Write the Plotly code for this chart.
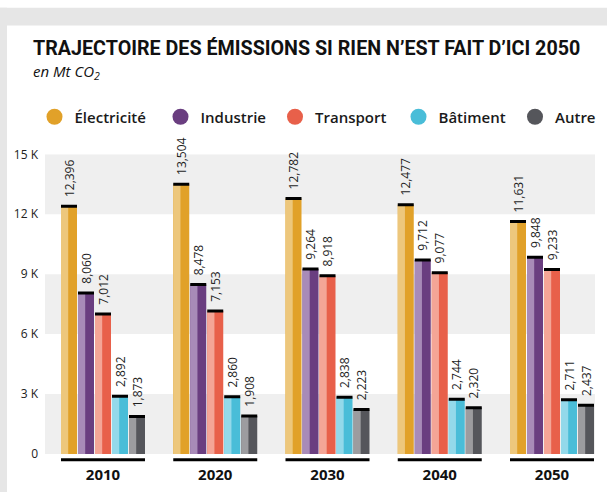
import plotly.graph_objects as go

years = ['2010', '2020', '2030', '2040', '2050']
series_names = ['Électricité', 'Industrie', 'Transport', 'Bâtiment', 'Autre']
electricite = [12396, 13504, 12782, 12477, 11631]
industrie = [8060, 8478, 9264, 9712, 9848]
transport = [7012, 7153, 8918, 9077, 9233]
batiment = [2892, 2860, 2838, 2744, 2711]
autre = [1873, 1908, 2223, 2320, 2437]
series_values = [electricite, industrie, transport, batiment, autre]
base_colors = ['#E1A129', '#6A3E80', '#E8604A', '#49BDD8', '#55565B']
light_colors = ['#EDC77C', '#A88BB8', '#F4A596', '#93D9EA', '#9C9C9F']
tick_vals = [0, 3000, 6000, 9000, 12000, 15000]
tick_text = ['0', '3 K', '6 K', '9 K', '12 K', '15 K']

W, H = 607, 496
ML, MR, MT, MB = 45, 12, 150, 39
PW, PH = W - ML - MR, H - MT - MB

# group geometry in category units
CAT_PX = 112.25
BAR_W = 16 / CAT_PX
SLOT = 17 / CAT_PX
GROUP_LEFT = -42 / CAT_PX
LIGHT_FRAC = 0.45

# legend symbol centres (px from left) for each series
LEGEND_CX = [54.5, 180.5, 295, 418.5, 535]
LEGEND_SYM_OFFSET = 20

FONT = 'Open Sans'

fig = go.Figure()

for j, (name, vals) in enumerate(zip(series_names, series_values)):
    off = GROUP_LEFT + j * SLOT
    fig.add_trace(go.Bar(
        x=years, y=vals, offset=off, width=BAR_W,
        marker=dict(color=base_colors[j], line=dict(width=0)),
        showlegend=False, hoverinfo='skip'))
    fig.add_trace(go.Bar(
        x=years, y=vals, offset=off, width=BAR_W * LIGHT_FRAC,
        marker=dict(color=light_colors[j], line=dict(width=0)),
        showlegend=False, hoverinfo='skip'))
    fig.add_trace(go.Bar(
        x=years, y=vals, offset=off, width=BAR_W,
        marker=dict(color='rgba(0,0,0,0)', line=dict(width=0)),
        error_y=dict(type='data', array=[0] * len(vals), visible=True,
                     color='black', thickness=3, width=8),
        texttemplate='\u00a0\u00a0%{y:,}', textposition='outside',
        textangle=-90, constraintext='none', cliponaxis=False,
        textfont=dict(family=FONT, size=12, color='#1e1e1e'),
        showlegend=False, name=name))

legend_layouts = {}
for j, name in enumerate(series_names):
    key = 'legend' if j == 0 else f'legend{j + 1}'
    fig.add_trace(go.Scatter(
        x=[None], y=[None], mode='markers', name=name,
        legend=key, showlegend=True,
        marker=dict(symbol='circle', size=16, color=base_colors[j])))
    legend_layouts[key] = dict(
        orientation='h', xref='container', yref='container',
        x=(LEGEND_CX[j] - LEGEND_SYM_OFFSET) / W, y=1 - 117 / H,
        xanchor='left', yanchor='middle',
        font=dict(family=FONT, size=15, color='#1a1a1a', weight=600),
        itemsizing='trace', bgcolor='rgba(0,0,0,0)')

shapes = []
# alternating background bands
for k in range(0, len(tick_vals) - 1, 2):
    shapes.append(dict(type='rect', xref='paper', x0=0, x1=1, yref='y',
                       y0=tick_vals[k], y1=tick_vals[k + 1],
                       fillcolor='#EFEFEF', line=dict(width=0), layer='below'))
# underline under each group
for i in range(len(years)):
    shapes.append(dict(type='line', xref='x', yref='paper',
                       x0=i + GROUP_LEFT, x1=i - GROUP_LEFT,
                       y0=-6 / PH, y1=-6 / PH,
                       line=dict(color='black', width=3)))
# grey frame strips (left and top)
shapes.append(dict(type='rect', xref='paper', yref='paper',
                   x0=-ML / PW, x1=(7 - ML) / PW,
                   y0=-MB / PH, y1=(H - MB) / PH,
                   fillcolor='#E6E6E6', line=dict(width=0)))
shapes.append(dict(type='rect', xref='paper', yref='paper',
                   x0=-ML / PW, x1=(W - ML) / PW,
                   y0=(H - MB - 18) / PH, y1=(H - MB) / PH,
                   fillcolor='#E6E6E6', line=dict(width=0)))

annotations = [
    dict(text='TRAJECTOIRE DES ÉMISSIONS SI RIEN N’EST FAIT D’ICI 2050',
         xref='paper', yref='paper', x=(31 - ML) / PW, y=(H - MB - 41) / PH,
         xanchor='left', yanchor='middle', showarrow=False,
         font=dict(family='Roboto', size=19.7, color='#111111', weight='bold')),
    dict(text='<i>en Mt CO<sub>2</sub></i>',
         xref='paper', yref='paper', x=(31 - ML) / PW, y=(H - MB - 66) / PH,
         xanchor='left', yanchor='middle', showarrow=False,
         font=dict(family=FONT, size=15, color='#111111')),
]

fig.update_layout(
    width=W, height=H,
    margin=dict(l=ML, r=MR, t=MT, b=MB, pad=0),
    paper_bgcolor='white', plot_bgcolor='white',
    barmode='overlay',
    shapes=shapes, annotations=annotations,
    showlegend=True,
    xaxis=dict(type='category', range=[-58 / CAT_PX, 4 + 43 / CAT_PX],
               showgrid=False, zeroline=False, showline=False, ticks='',
               tickfont=dict(family=FONT, size=15, color='#111111', weight='bold'),
               ticklabelstandoff=10),
    yaxis=dict(range=[0, 15000], tickvals=tick_vals, ticktext=tick_text,
               showgrid=False, zeroline=False, showline=False, ticks='',
               tickfont=dict(family=FONT, size=12, color='#222222'),
               ticklabelstandoff=6),
    font=dict(family=FONT),
    **legend_layouts,
)

fig.write_html('out.html', config={'displayModeBar': False},
               post_script="document.body.style.margin='0';")
